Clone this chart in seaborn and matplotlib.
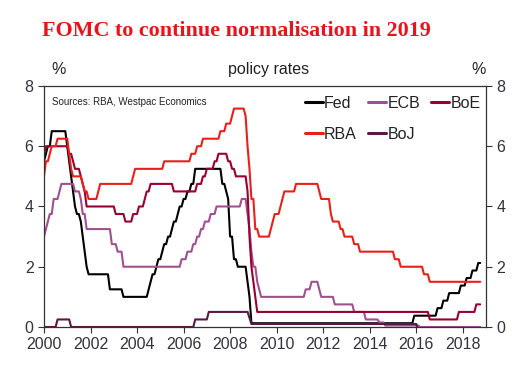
import matplotlib
matplotlib.use("Agg")
import matplotlib.pyplot as plt
import seaborn as sns
import pandas as pd
import numpy as np

# Policy-rate change points (decimal year of month start, new level)
fed_dates = [2000.0, 2000.08, 2000.17, 2000.33, 2001.0, 2001.08, 2001.17, 2001.25, 2001.33, 2001.42,
             2001.58, 2001.67, 2001.75, 2001.83, 2001.92, 2002.83, 2003.42, 2004.5, 2004.58, 2004.67,
             2004.83, 2004.92, 2005.08, 2005.17, 2005.33, 2005.5, 2005.58, 2005.75, 2005.83, 2006.0,
             2006.17, 2006.33, 2006.5, 2007.67, 2007.83, 2007.92, 2008.0, 2008.17, 2008.33, 2008.75,
             2008.83, 2008.92, 2015.92, 2016.92, 2017.17, 2017.42, 2017.92, 2018.17, 2018.42, 2018.67]
fed_rates = [5.5, 5.75, 6.0, 6.5, 6.0, 5.5, 5.0, 4.5, 4.0, 3.75,
             3.5, 3.0, 2.5, 2.0, 1.75, 1.25, 1.0, 1.25, 1.5, 1.75,
             2.0, 2.25, 2.5, 2.75, 3.0, 3.25, 3.5, 3.75, 4.0, 4.25,
             4.5, 4.75, 5.25, 4.75, 4.5, 4.25, 3.0, 2.25, 2.0, 1.5,
             1.0, 0.125, 0.375, 0.625, 0.875, 1.125, 1.375, 1.625, 1.875, 2.125]

ecb_dates = [2000.0, 2000.08, 2000.17, 2000.25, 2000.42, 2000.67, 2000.75, 2001.33, 2001.58, 2001.67,
             2001.83, 2002.92, 2003.17, 2003.42, 2005.92, 2006.17, 2006.42, 2006.58, 2006.75, 2006.92,
             2007.17, 2007.42, 2008.5, 2008.75, 2008.83, 2008.92, 2009.0, 2009.17, 2009.25, 2009.33,
             2011.25, 2011.5, 2011.83, 2011.92, 2012.5, 2013.33, 2013.83, 2014.42, 2014.67, 2016.17]
ecb_rates = [3.0, 3.25, 3.5, 3.75, 4.25, 4.5, 4.75, 4.5, 4.25, 3.75,
             3.25, 2.75, 2.5, 2.0, 2.25, 2.5, 2.75, 3.0, 3.25, 3.5,
             3.75, 4.0, 4.25, 3.75, 3.25, 2.5, 2.0, 1.5, 1.25, 1.0,
             1.25, 1.5, 1.25, 1.0, 0.75, 0.5, 0.25, 0.15, 0.05, 0.0]

boe_dates = [2000.0, 2000.08, 2001.08, 2001.25, 2001.33, 2001.58, 2001.67, 2001.75, 2001.83, 2003.08,
             2003.5, 2003.83, 2004.08, 2004.33, 2004.42, 2004.58, 2005.58, 2006.58, 2006.83, 2007.0,
             2007.33, 2007.5, 2007.92, 2008.08, 2008.25, 2008.75, 2008.83, 2008.92, 2009.0, 2009.08,
             2009.17, 2016.58, 2017.83, 2018.58]
boe_rates = [5.75, 6.0, 5.75, 5.5, 5.25, 5.0, 4.75, 4.5, 4.0, 3.75,
             3.5, 3.75, 4.0, 4.25, 4.5, 4.75, 4.5, 4.75, 5.0, 5.25,
             5.5, 5.75, 5.5, 5.25, 5.0, 4.5, 3.0, 2.0, 1.5, 1.0,
             0.5, 0.25, 0.5, 0.75]

rba_dates = [2000.0, 2000.08, 2000.25, 2000.33, 2000.58, 2001.08, 2001.17, 2001.25, 2001.67, 2001.75,
             2001.92, 2002.33, 2002.42, 2003.83, 2003.92, 2005.17, 2006.33, 2006.58, 2006.83, 2007.58,
             2007.83, 2008.08, 2008.17, 2008.67, 2008.75, 2008.83, 2008.92, 2009.08, 2009.25, 2009.75,
             2009.83, 2009.92, 2010.17, 2010.25, 2010.33, 2010.83, 2011.83, 2011.92, 2012.33, 2012.42,
             2012.75, 2012.92, 2013.33, 2013.58, 2015.08, 2015.33, 2016.33, 2016.58]
rba_rates = [5.0, 5.5, 5.75, 6.0, 6.25, 5.75, 5.25, 5.0, 4.75, 4.5,
             4.25, 4.5, 4.75, 5.0, 5.25, 5.5, 5.75, 6.0, 6.25, 6.5,
             6.75, 7.0, 7.25, 7.0, 6.0, 5.25, 4.25, 3.25, 3.0, 3.25,
             3.5, 3.75, 4.0, 4.25, 4.5, 4.75, 4.5, 4.25, 3.75, 3.5,
             3.25, 3.0, 2.75, 2.5, 2.25, 2.0, 1.75, 1.5]

boj_dates = [2000.0, 2000.58, 2001.17, 2006.5, 2007.08, 2008.83, 2008.92, 2016.08]
boj_rates = [0.0, 0.25, 0.0, 0.25, 0.5, 0.3, 0.1, -0.1]

series_names = ["Fed", "ECB", "BoE", "RBA", "BoJ"]
series_colors = ["#000000", "#A0508F", "#990030", "#E8201C", "#5A1845"]

# monthly grid Jan 2000 - Oct 2018
months = np.round(2000 + np.arange(0, 226) / 12, 4)

def monthly(dates, rates):
    s = pd.Series(rates, index=np.array(dates))
    idx = np.round(np.round(np.array(dates) * 12) / 12, 4)
    s.index = idx
    return s.reindex(months, method="ffill")

frames = []
for name, d, r in zip(series_names,
                      [fed_dates, ecb_dates, boe_dates, rba_dates, boj_dates],
                      [fed_rates, ecb_rates, boe_rates, rba_rates, boj_rates]):
    m = monthly(d, r)
    frames.append(pd.DataFrame({"year": months, "rate": m.values, "bank": name}))
df = pd.concat(frames, ignore_index=True)

sns.set_style("white")
plt.rcParams["font.family"] = ["Liberation Sans", "DejaVu Sans"]

fig = plt.figure(figsize=(5.28, 3.80), dpi=100)
ax = fig.add_axes([0.0833, 0.1395, 0.8372, 0.6342])

sns.lineplot(data=df, x="year", y="rate", hue="bank", hue_order=series_names,
             palette=series_colors, linewidth=1.5, ax=ax, legend=False)

ax.set_xlim(2000, 2019)
ax.set_ylim(0, 8)
ax.set_xticks([2000, 2002, 2004, 2006, 2008, 2010, 2012, 2014, 2016, 2018])
ax.set_yticks([0, 2, 4, 6, 8])
ax.set_xlabel("")
ax.set_ylabel("")
tick_color = "#333340"
ax.tick_params(axis="both", direction="out", length=4, width=0.8, colors="#333333",
               labelsize=11.5, labelcolor=tick_color, bottom=True, left=True)
for sp in ax.spines.values():
    sp.set_color("#333333")
    sp.set_linewidth(0.9)

ax2 = ax.twinx()
ax2.set_ylim(0, 8)
ax2.set_yticks([0, 2, 4, 6, 8])
ax2.tick_params(axis="y", direction="out", length=4, width=0.8, colors="#333333",
                labelsize=11.5, labelcolor=tick_color, right=True)
for sp in ax2.spines.values():
    sp.set_visible(False)

from matplotlib.lines import Line2D
# column-major fill: order so rows read Fed, ECB, BoE / RBA, BoJ
leg_order = [0, 3, 1, 4, 2]
handles = [Line2D([], [], color=series_colors[i], lw=2.2) for i in leg_order]
labels = [series_names[i] for i in leg_order]
leg = ax.legend(handles, labels, ncol=3, loc="upper right", bbox_to_anchor=(1.02, 1.02),
                frameon=False, fontsize=11.5, handlelength=1.1, handletextpad=0.1,
                columnspacing=0.7, labelspacing=1.0)
for t in leg.get_texts():
    t.set_color("#222222")

ax.text(0.018, 0.955, "Sources: RBA, Westpac Economics", transform=ax.transAxes,
        fontsize=7, color="#222222", va="top", ha="left")

fig.text(0.098, 0.804, "%", fontsize=11.5, color="#222222", ha="left", va="baseline")
fig.text(0.508, 0.804, "policy rates", fontsize=11.5, color="#222222", ha="center", va="baseline")
fig.text(0.893, 0.804, "%", fontsize=11.5, color="#222222", ha="left", va="baseline")

fig.text(0.079, 0.905, "FOMC to continue normalisation in 2019", fontsize=15.8,
         fontweight="bold", color="#E8141C", ha="left", va="baseline",
         family=["Liberation Serif", "DejaVu Serif"])

fig.savefig("out.png", dpi=100)
